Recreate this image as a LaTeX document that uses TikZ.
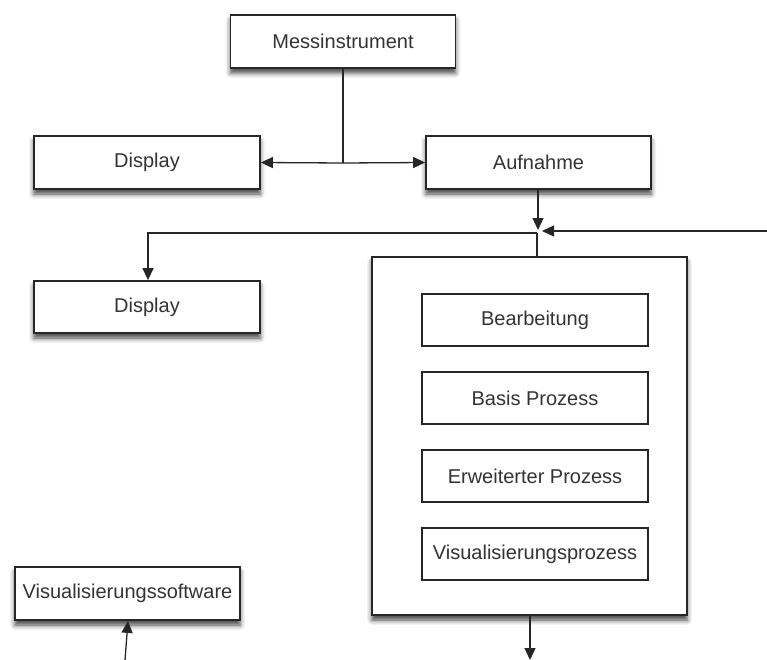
\documentclass[tikz,border=0pt]{standalone}
\usepackage{fontspec}
\setmainfont{Liberation Sans}
\usetikzlibrary{arrows.meta,shadows.blur}
\begin{document}
\begin{tikzpicture}[x=1pt,y=-1pt,
  outerbox/.style={draw=black!85,line width=1.8pt,fill=white,rectangle,inner sep=0pt,
    minimum width=225pt,minimum height=53pt,
    font=\fontsize{20}{22}\selectfont,text=black!80,
    blur shadow={shadow xshift=0pt,shadow yshift=-5pt,shadow blur radius=5pt,shadow opacity=75}},
  innerbox/.style={draw=black!85,line width=1.4pt,fill=white,rectangle,inner sep=0pt,
    minimum width=226pt,minimum height=52pt,
    font=\fontsize{20}{22}\selectfont,text=black!80},
  conn/.style={draw=black!85,line width=1.3pt},
  arr/.style={conn,-{Triangle[length=12pt,width=11pt]}}]
\useasboundingbox (0,0) rectangle (767,660);
\node[outerbox] (mess) at (343,41.5) {Messinstrument};
\node[outerbox,minimum width=226pt] (disp1) at (147,162.5) {Display};
\node[outerbox] (auf) at (538.5,162.5) {Aufnahme};
\node[outerbox,minimum width=226pt,minimum height=52pt] (disp2) at (147,307) {Display};
\node[outerbox,minimum width=315pt,minimum height=358pt] (big) at (529.5,436) {};
\node[innerbox] (bear) at (535,320) {Bearbeitung};
\node[innerbox] (basis) at (535,398) {Basis Prozess};
\node[innerbox] (erw) at (535,476) {Erweiterter Prozess};
\node[innerbox] (visp) at (535,554) {Visualisierungsprozess};
\node[outerbox] (vsw) at (127.5,593.5) {Visualisierungssoftware};
% connectors
\coordinate (t) at (343,163);
\coordinate (j) at (537,233);
\coordinate (jr) at (542,231);
\coordinate (rin) at (767,231);
\coordinate (lc) at (148,233);
\coordinate (bot) at (530,660);
\coordinate (vbot) at (125,660);
\draw[conn] (mess.south) -- (t);
\draw[arr] (t) -- (disp1.east);
\draw[arr] (t) -- (auf.west);
\draw[arr] (auf.south -| 538,0) -- (538,230);
\draw[arr] (rin) -- (jr);
\draw[conn] (j) -- (big.north -| j);
\draw[arr] (j) -- (lc) -- (disp2.north -| lc);
\draw[arr] (big.south -| bot) -- (bot);
\draw[arr] (vbot) -- (vsw.south -| 128,0);
\end{tikzpicture}
\end{document}
